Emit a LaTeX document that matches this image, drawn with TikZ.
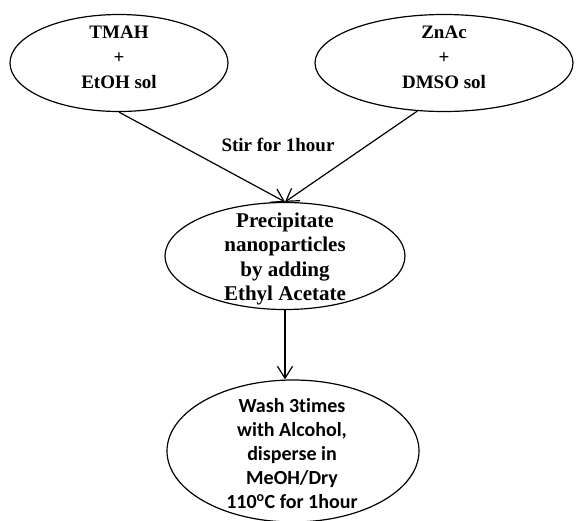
\documentclass[tikz,border=0pt]{standalone}
\usepackage{fontspec}
\setmainfont{Liberation Serif}
\newfontfamily\calfont[Ligatures=NoCommon]{Carlito}
\usetikzlibrary{shapes.geometric,arrows.meta}
\tikzset{
  ell/.style={draw, ellipse, line width=1.2pt, inner sep=0pt},
  lbl/.style={align=center, inner sep=0pt, font=\bfseries\fontsize{19}{25}\selectfont},
  lblm/.style={align=center, inner sep=0pt, font=\bfseries\fontsize{21}{24.5}\selectfont},
  lblc/.style={align=center, inner sep=0pt, font=\calfont\bfseries\fontsize{20}{24}\selectfont},
  arr/.style={line width=1.2pt, -{Straight Barb[length=12pt,width=15pt,line width=1.2pt]}}
}
\begin{document}
\begin{tikzpicture}[x=1pt,y=-1pt]
\useasboundingbox (0,0) rectangle (576,520);
\node[ell, minimum width=218pt, minimum height=97pt] (a) at (119,63) {};
\node[lbl] (at) at (119,57) {TMAH\\+\\EtOH sol};
\node[ell, minimum width=258pt, minimum height=97pt] (b) at (444,63) {};
\node[lbl] (bt) at (444,57) {ZnAc\\+\\DMSO sol};
\node[ell, minimum width=240pt, minimum height=107pt] (c) at (285,256) {};
\node[lblm] (ct) at (285,259) {Precipitate\\nanoparticles\\by adding\\Ethyl Acetate};
\node[ell, minimum width=252pt, minimum height=142pt] (d) at (293,451) {};
\node[lblc] (dt) at (292,454) {Wash 3times\\with Alcohol,\\disperse in\\MeOH/Dry\\110\textsuperscript{o}C for 1hour};
\node[lbl] (stir) at (278,145) {Stir for 1hour};
\draw[arr] (a.south) -- (c.north);
\draw[arr] (b.-119) -- (c.north);
\draw[arr] (c.south) -- (c.south |- d.north);
\end{tikzpicture}
\end{document}
